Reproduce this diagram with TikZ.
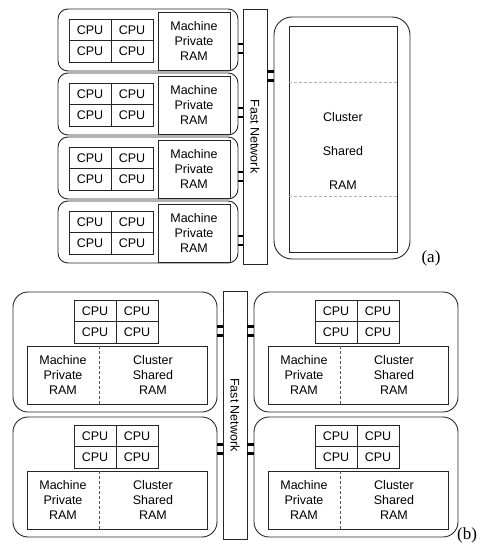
\documentclass[tikz,border=0pt]{standalone}
\usepackage{fontspec}
\setmainfont{Liberation Sans}
\newfontfamily\labfont{Liberation Serif}
\begin{document}
\begin{tikzpicture}[x=1pt,y=-1pt,
  every node/.style={inner sep=0pt,outer sep=0pt},
  txt/.style={font=\fontsize{12.5}{15}\selectfont,align=center},
  mbox/.style={draw=black!85,line width=0.9pt,rounded corners=10pt,anchor=north west},
  bigbox/.style={draw=black!85,line width=0.9pt,rounded corners=18pt,anchor=north west},
  cpu/.style={draw=black!85,line width=0.8pt,minimum width=42pt,minimum height=21.5pt,anchor=north west,txt},
  rambox/.style={draw=black!85,line width=0.8pt,anchor=north west,txt},
  netbar/.style={draw=black!85,line width=0.8pt,minimum width=24pt,anchor=north west},
  rung/.style={line width=2.6pt,black},
  lightdash/.style={draw=black!30,line width=0.7pt,dash pattern=on 3pt off 2pt},
  darkdash/.style={draw=black!65,line width=0.7pt,dash pattern=on 3pt off 2pt},
  lab/.style={font=\labfont\fontsize{17}{20}\selectfont}]
\useasboundingbox (0,0) rectangle (488,544);

% ---------------- (a) ----------------
\node[netbar,minimum height=255pt] (bara) at (243,9) {};
\node[txt,rotate=-90] (fna) at (bara.center) {Fast Network};

\node[bigbox,minimum width=136pt,minimum height=242pt] (cl) at (274,17) {};
\node[draw=black!85,line width=0.8pt,anchor=north west,minimum width=108pt,minimum height=226pt] (csr) at (289,26) {};
\draw[lightdash] (csr.west |- 0,82) -- (csr.east |- 0,82);
\draw[lightdash] (csr.west |- 0,196) -- (csr.east |- 0,196);
\node[txt] (t1) at (343,117) {Cluster};
\node[txt] (t2) at (343,151) {Shared};
\node[txt] (t3) at (343,185) {RAM};
\draw[rung] (bara.east |- 0,71.5) -- (cl.west |- 0,71.5);
\draw[rung] (bara.east |- 0,80.5) -- (cl.west |- 0,80.5);

\foreach \i in {0,1,2,3}{
  \pgfmathsetmacro\yo{9+64*\i}
  \node[mbox,minimum width=180pt,minimum height=62pt] (ma\i) at (58,\yo) {};
  \node[cpu] (ca\i) at (69,\yo+10) {CPU};
  \node[cpu] (cb\i) at (111,\yo+10) {CPU};
  \node[cpu] (cc\i) at (69,\yo+31.5) {CPU};
  \node[cpu] (cd\i) at (111,\yo+31.5) {CPU};
  \node[rambox,minimum width=72pt,minimum height=58pt] (ra\i) at (158,\yo+3) {Machine\\Private\\RAM};
  \draw[rung] (ma\i.east |- 0,\yo+35) -- (bara.west |- 0,\yo+35);
  \draw[rung] (ma\i.east |- 0,\yo+44) -- (bara.west |- 0,\yo+44);
}
\node[lab] (la) at (431,258) {(a)};

% ---------------- (b) ----------------
\node[netbar,minimum height=248pt] (barb) at (223,291) {};
\node[txt,rotate=-90] (fnb) at (barb.center) {Fast Network};

\foreach \n/\x/\y in {tl/13/292,tr/254/292,bl/13/417,br/254/417}{
  \node[mbox,rounded corners=15pt,minimum width=204pt,minimum height=120pt] (m\n) at (\x,\y) {};
  \node[cpu] (c1\n) at (\x+61,\y+8) {CPU};
  \node[cpu] (c2\n) at (\x+103,\y+8) {CPU};
  \node[cpu] (c3\n) at (\x+61,\y+29.5) {CPU};
  \node[cpu] (c4\n) at (\x+103,\y+29.5) {CPU};
  \node[rambox,minimum width=180pt,minimum height=58pt] (r\n) at (\x+14,\y+54) {};
  \draw[darkdash] (\x+86,\y+54) -- (\x+86,\y+112);
  \node[txt] (p\n) at (\x+50,\y+83) {Machine\\Private\\RAM};
  \node[txt] (s\n) at (\x+140,\y+83) {Cluster\\Shared\\RAM};
}
\foreach \y in {326.5,335.5}{
  \draw[rung] (mtl.east |- 0,\y) -- (barb.west |- 0,\y);
  \draw[rung] (barb.east |- 0,\y) -- (mtr.west |- 0,\y);
}
\foreach \y in {444.5,453.5}{
  \draw[rung] (mbl.east |- 0,\y) -- (barb.west |- 0,\y);
  \draw[rung] (barb.east |- 0,\y) -- (mbr.west |- 0,\y);
}
\node[lab] (lb) at (467,535) {(b)};
\end{tikzpicture}
\end{document}
